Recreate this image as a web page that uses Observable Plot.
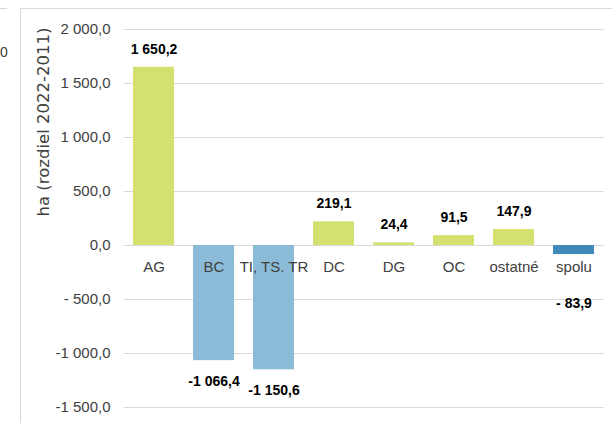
<!DOCTYPE html>
<html><head><meta charset="utf-8">
<script src="https://cdn.jsdelivr.net/npm/d3@7"></script>
<script src="https://cdn.jsdelivr.net/npm/@observablehq/plot@0.6"></script>
<style>
html,body{margin:0;padding:0;background:#fff;overflow:hidden}
#wrap{position:relative;width:612px;height:423px;overflow:hidden}
#frame{position:absolute;left:20px;top:8px;width:600px;height:430px;border-top:1.5px solid #d9d9d9;border-left:1.5px solid #d9d9d9;pointer-events:none}
#frag{position:absolute;left:0px;top:44px;font:14px "Liberation Sans",sans-serif;color:#404040}
#fragline{position:absolute;left:0;top:8px;width:7px;height:0;border-top:1.5px solid #d9d9d9}
#wrap svg{position:absolute;left:0;top:0}
</style></head>
<body>
<div id="wrap"><div id="frag">0</div><div id="fragline"></div></div>
<script>
const categories = ["AG", "BC", "TI, TS. TR", "DC", "DG", "OC", "ostatné", "spolu"];
const values = [1650.2, -1066.4, -1150.6, 219.1, 24.4, 91.5, 147.9, -83.9];
const yTicks = [-1500, -1000, -500, 0, 500, 1000, 1500, 2000];
const yTickLabels = ["-1 500,0", "-1 000,0", "- 500,0", "0,0", "500,0", "1 000,0", "1 500,0", "2 000,0"];
const yTitle = "ha (rozdiel 2022-2011)";
const totalCategory = "spolu";

const data = categories.map((c, i) => ({cat: c, value: values[i], total: c === totalCategory}));

const fmtAbs = v => {
  const [a, b] = Math.abs(v).toFixed(1).split(".");
  return a.replace(/\B(?=(\d{3})+(?!\d))/g, " ") + "," + b;
};
const fmt = v => v < 0 ? (Math.abs(v) < 1000 ? "- " : "-") + fmtAbs(v) : fmtAbs(v);

const colorOf = d => d.total ? "#4189b9" : d.value >= 0 ? "#d5e16f" : "#8bbbd6";

const labelFont = {fontFamily: "Liberation Sans, Arial, sans-serif", fontSize: 14, fontWeight: "bold", fill: "#000"};

const chart = Plot.plot({
  width: 612,
  height: 423,
  marginTop: 29,
  marginBottom: 16,
  marginLeft: 123.5,
  marginRight: 8.5,
  style: {background: "transparent", fontFamily: "Liberation Sans, Arial, sans-serif", fontSize: "15px", color: "#404040"},
  x: {domain: categories, paddingInner: 0.32, paddingOuter: 0.16, axis: null},
  y: {domain: [-1500, 2000], axis: null},
  marks: [
    Plot.ruleY(yTicks, {stroke: "#d9d9d9", strokeWidth: 1.2}),
    Plot.barY(data, {x: "cat", y: "value", fill: colorOf}),
    Plot.axisY({ticks: yTicks, tickFormat: d => yTickLabels[yTicks.indexOf(d)], tickSize: 0, tickPadding: 13.5, fontSize: 15, label: null}),
    Plot.text(data, {x: "cat", y: () => 0, text: "cat", dy: 22, fill: "#404040", fontSize: 15}),
    Plot.text(data.filter(d => d.value >= 0), {x: "cat", y: "value", text: d => fmt(d.value), dy: -18, ...labelFont}),
    Plot.text(data.filter(d => d.value < 0 && !d.total), {x: "cat", y: "value", text: d => fmt(d.value), dy: 21, ...labelFont}),
    Plot.text(data.filter(d => d.total), {x: "cat", y: "value", text: d => fmt(d.value), dy: 49, ...labelFont}),
    Plot.text([yTitle], {frameAnchor: "left", text: d => d, rotate: -90, dx: -80.5, dy: -2, fontFamily: "DejaVu Sans, sans-serif", fontSize: 16.5, fill: "#404040"})
  ]
});
const wrap = document.getElementById("wrap");
wrap.appendChild(chart);
const fr = document.createElement("div");
fr.id = "frame";
wrap.appendChild(fr);
</script>
</body></html>
